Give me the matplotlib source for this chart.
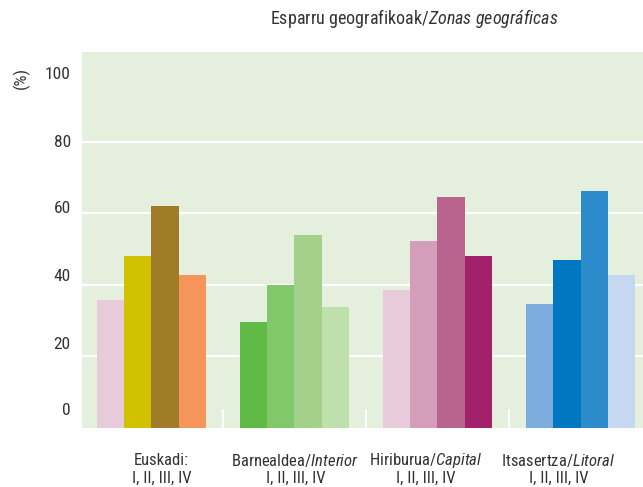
import matplotlib.pyplot as plt
from matplotlib import font_manager
import numpy as np

# look for a narrow face, the original uses a condensed gothic
names = {f.name for f in font_manager.fontManager.ttflist}
narrow = None
for cand in ["Liberation Sans Narrow", "Roboto Condensed", "Open Sans Condensed",
             "DejaVu Sans Condensed", "Noto Sans Condensed"]:
    if cand in names:
        narrow = cand
        break
stretch = "normal"
if narrow is None:
    path = font_manager.findfont(font_manager.FontProperties(family="DejaVu Sans", stretch="condensed"))
    if "Condensed" in path:
        narrow, stretch = "DejaVu Sans", "condensed"
scale = 1.0
if narrow is None:
    narrow, scale = "Roboto", 0.84

plt.rcParams['font.family'] = [narrow, 'DejaVu Sans']
plt.rcParams['font.stretch'] = stretch
plt.rcParams['mathtext.fontset'] = 'custom'
plt.rcParams['mathtext.rm'] = narrow
plt.rcParams['mathtext.it'] = narrow + ':italic'

groups = ["Euskadi:", "Barnealdea/$\\mathit{Interior}$",
          "Hiriburua/$\\mathit{Capital}$", "Itsasertza/$\\mathit{Litoral}$"]
sub_label = "I, II, III, IV"

# values for I, II, III, IV in each zone (%)
euskadi = [35.7, 48.0, 62.0, 42.7]
barnealdea = [29.5, 40.1, 53.9, 33.7]
hiriburua = [38.5, 52.2, 64.5, 48.0]
itsasertza = [34.8, 46.9, 66.2, 42.7]
values = [euskadi, barnealdea, hiriburua, itsasertza]

colors = [
    ["#E8CBDA", "#D0C200", "#A07C28", "#F5955A"],
    ["#5FBB46", "#82C769", "#A3D08A", "#BFDFAD"],
    ["#E8CBDA", "#D49EBB", "#B9648F", "#A3206A"],
    ["#7EACDC", "#0077C0", "#2E8BCB", "#C5D8EF"],
]

ytick_labels = ["0", "20", "40", "60", "80", "100"]

fig = plt.figure(figsize=(6.43, 4.87), dpi=100)
ax = fig.add_axes([0.1275, 0.1211, 0.8725, 0.7721])
ax.set_facecolor("#E4EFDE")

width = 0.189
for g, vals in enumerate(values):
    for i, v in enumerate(vals):
        ax.bar(g + (i - 1.5) * width, v, width=width, color=colors[g][i],
               zorder=3, linewidth=0)

for y in [20, 40, 60, 80]:
    ax.axhline(y, color="white", linewidth=1.6, zorder=1)
for x in [0.5, 1.5, 2.5]:
    ax.plot([x, x], [0, 5], color="white", linewidth=1.5, zorder=2)

ax.set_xlim(-0.486, 3.437)
ax.set_ylim(0, 105.1)

# tick labels sit a little off the grid lines in the original
ax.set_yticks([5.4, 23.9, 42.7, 61.7, 80.2, 99.2])
ax.set_yticklabels(ytick_labels, fontsize=12.5 * scale, color="#333333")
ax.tick_params(axis="y", length=0, pad=8)
ax.set_xticks([])
for s in ax.spines.values():
    s.set_visible(False)

label_x = [0.07, 1.007, 1.92, 2.845]
for x, name in zip(label_x, groups):
    ax.text(x, -9.1, name, ha="center", va="center", fontsize=12 * scale,
            color="#333333", clip_on=False)
    ax.text(x, -14.2, sub_label, ha="center", va="center", fontsize=12 * scale,
            color="#333333", clip_on=False)

fig.text(0.033, 0.84, "(%)", rotation=90, ha="center", va="center",
         fontsize=12.5 * scale, color="#333333")
fig.text(0.644, 0.963, "Esparru geografikoak/$\\mathit{Zonas\\ geográficas}$",
         ha="center", va="center", fontsize=13 * scale, color="#333333")

fig.savefig("out.png", dpi=100)
